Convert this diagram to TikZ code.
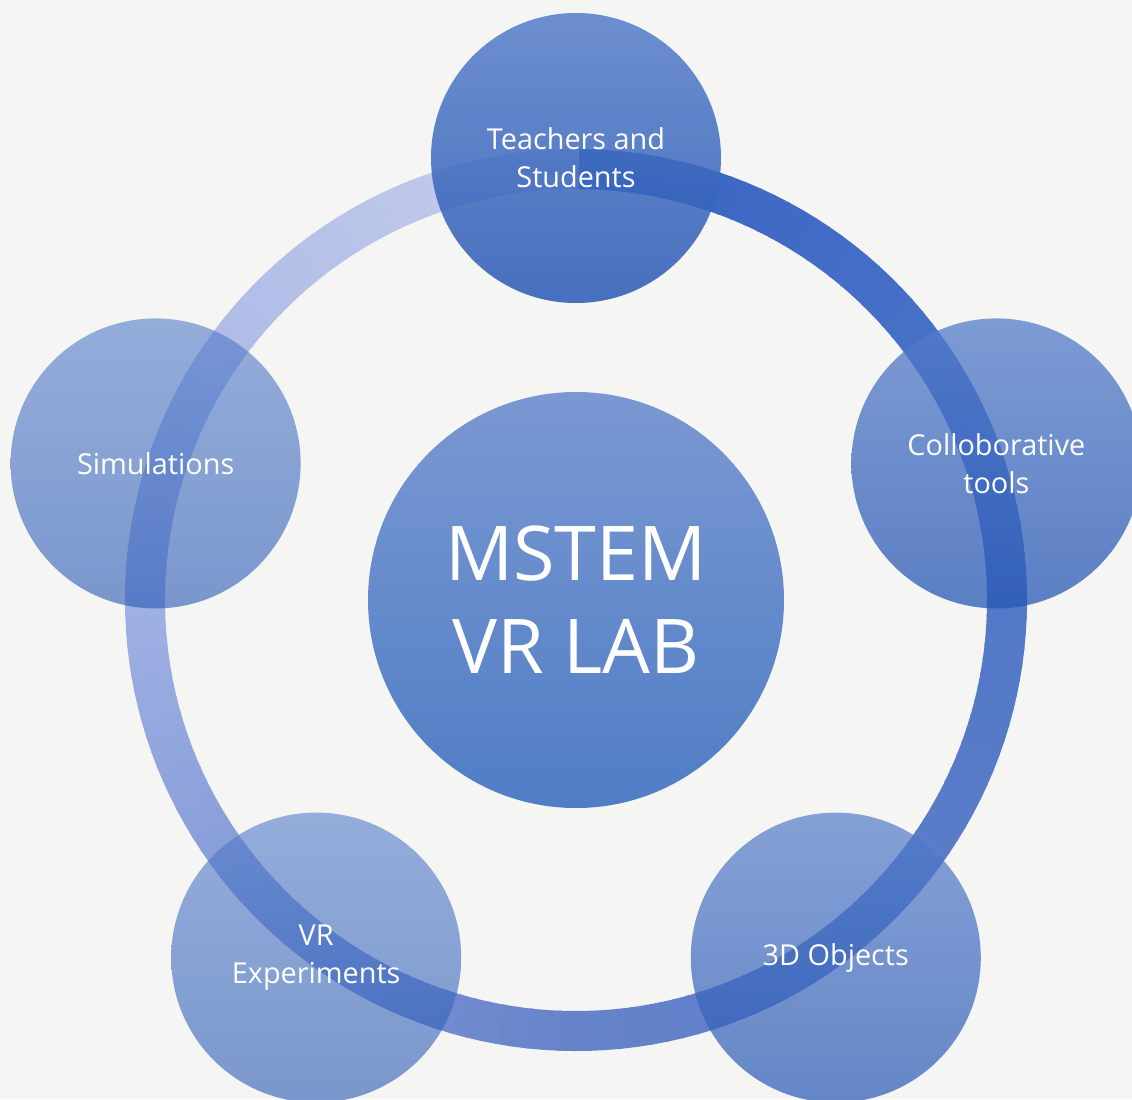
\documentclass[tikz,border=0pt]{standalone}
\usepackage{fontspec}
\setmainfont{Open Sans}
\usepackage{tikz}
\definecolor{paper}{RGB}{245,245,243}
\definecolor{discTop}{RGB}{85,125,202}
\definecolor{discBot}{RGB}{40,88,180}
\definecolor{hubTop}{RGB}{122,152,210}
\definecolor{hubBot}{RGB}{80,125,197}
% ring colours, clockwise from the top
\definecolor{rA}{RGB}{55,100,196}
\definecolor{rB}{RGB}{82,120,200}
\definecolor{rC}{RGB}{102,131,202}
\definecolor{rD}{RGB}{160,177,228}
\definecolor{rE}{RGB}{198,206,236}
\tikzstyle{disc}=[circle, inner sep=0pt, minimum size=2.9cm, top color=discTop, bottom color=discBot, text=white, text opacity=1, align=center, font=\fontsize{8.2}{10.8}\selectfont]
\tikzstyle{core}=[circle, inner sep=0pt, minimum size=4.16cm, top color=hubTop, bottom color=hubBot, text=white, align=center, font=\fontsize{21.5}{26.5}\selectfont]

\begin{document}
\begin{tikzpicture}
	\fill[paper] (-5.76,-4.99) rectangle (5.56,6.00);
	\useasboundingbox (-5.76,-4.99) rectangle (5.56,6.00);
	\coordinate (hub) at (0,0);
	\node[core] (lab) at (hub) {MSTEM\\VR LAB};
	% the ring, one short arc at a time
	\foreach \from/\to [count=\s from 0] in {rA/rB, rB/rC, rC/rD, rD/rE}
		\foreach \k in {0,...,44}{
			\pgfmathsetmacro{\ang}{90-90*\s-2*\k}
			\pgfmathtruncatemacro{\pct}{100-100*\k/45}
			\draw[line width=0.4cm, draw={\from!\pct!\to}] ([shift={(\ang:4.31)}]hub) arc[start angle=\ang, delta angle=-2.4, radius=4.31];
		}
	\foreach \ang/\nm/\op/\txt in {90/teach/0.85/{Teachers and\\Students}, 18/collab/0.75/{Colloborative\\tools}, 306/objects/0.7/{3D Objects}, 234/exper/0.6/{VR\\Experiments}, 162/sims/0.6/{Simulations}}
		\node[disc, fill opacity=\op] (\nm) at ([shift={(\ang:4.42)}]hub) {\txt};
\end{tikzpicture}
\end{document}
